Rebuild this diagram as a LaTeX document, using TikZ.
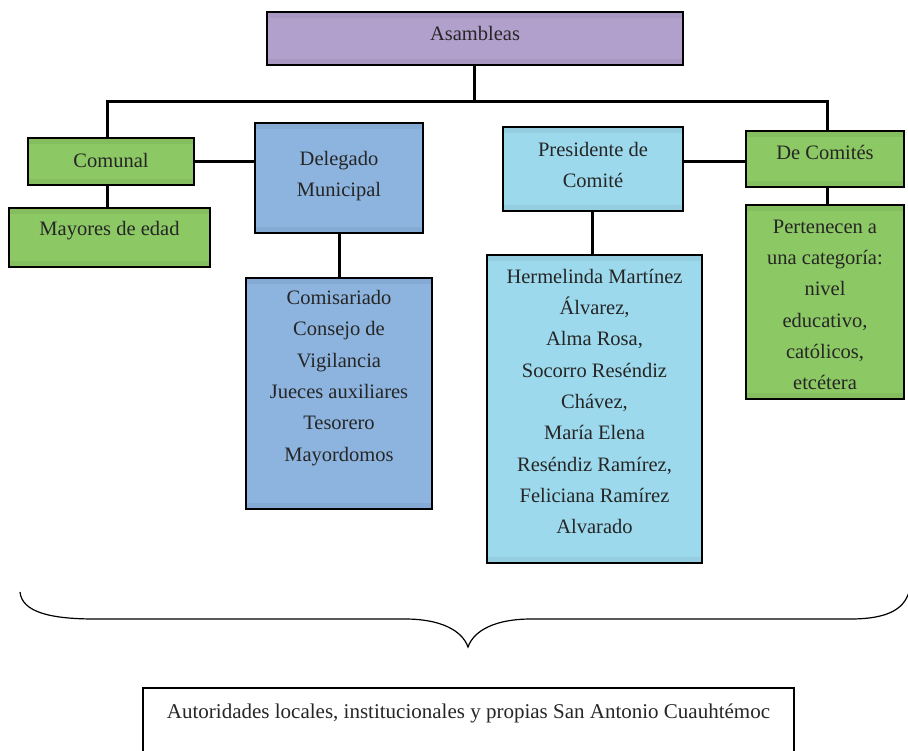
\documentclass[tikz,border=0pt]{standalone}
\usepackage{fontspec}
\setmainfont{Liberation Serif}
\definecolor{purp}{HTML}{B1A0CB}
\definecolor{grn}{HTML}{8CC864}
\definecolor{blu}{HTML}{8CB4DF}
\definecolor{lblu}{HTML}{9CD9EC}
\definecolor{txtc}{HTML}{262626}
\tikzset{
  box/.style={draw=black, line width=1.8pt, fill=#1, inner sep=0pt,
    path picture={
      \fill[#1!95!black] (path picture bounding box.north west) rectangle ([yshift=-6pt]path picture bounding box.north east);
      \fill[#1!95!black] (path picture bounding box.south west) rectangle ([yshift=6pt]path picture bounding box.south east);
    }},
  txt/.style={align=center, inner sep=0pt, text=txtc, font=\fontsize{20.5}{31.3}\selectfont},
  conn/.style={draw=black, line width=3pt},
}
\begin{document}
\begin{tikzpicture}[x=1pt,y=-1pt]
\useasboundingbox (0,0) rectangle (908,750);
% boxes
\node[box=purp, minimum width=416, minimum height=53] (asm) at (475,38.5) {};
\node[box=grn, minimum width=166, minimum height=47] (comunal) at (111,161.5) {};
\node[box=grn, minimum width=201, minimum height=59] (mayores) at (109.5,237.5) {};
\node[box=blu, minimum width=168, minimum height=110] (del) at (339,178) {};
\node[box=blu, minimum width=186, minimum height=231] (comis) at (339,393.5) {};
\node[box=lblu, minimum width=180, minimum height=84] (pres) at (593,169) {};
\node[box=lblu, minimum width=215, minimum height=308] (herm) at (594.5,409) {};
\node[box=grn, minimum width=158, minimum height=56] (dec) at (825,159) {};
\node[box=grn, minimum width=158, minimum height=194] (pert) at (825,302) {};
\node[draw=black, line width=1.5pt, fill=white, minimum width=651, minimum height=72, inner sep=0pt] (aut) at (468.5,724) {};
% texts
\node[txt] (tasm) at (475,33) {Asambleas};
\node[txt] (tcom) at (111,160) {Comunal};
\node[txt] (tmay) at (109.5,231) {Mayores de edad};
\node[txt] (tdel) at (339,176) {Delegado\\Municipal};
\node[txt] (tcomis) at (339,378) {Comisariado\\Consejo de\\Vigilancia\\Jueces auxiliares\\Tesorero\\Mayordomos};
\node[txt] (tpres) at (593,165) {Presidente de\\Comité};
\node[txt] (therm) at (594.5,401.5) {Hermelinda Martínez\\Álvarez,\\Alma Rosa,\\Socorro Reséndiz\\Chávez,\\María Elena\\Reséndiz Ramírez,\\Feliciana Ramírez\\Alvarado};
\node[txt] (tdec) at (825,152) {De Comités};
\node[txt] (tpert) at (825,305) {Pertenecen a\\una categoría:\\nivel\\educativo,\\católicos,\\etcétera};
\node[txt, font=\fontsize{21}{25}\selectfont] (taut) at (468.5,713) {Autoridades locales, institucionales y propias San Antonio Cuauhtémoc};
% connectors
\coordinate (hl) at (107,101);
\coordinate (hr) at (827,101);
\coordinate (hm) at (474,101);
\draw[conn] (hm |- asm.south) -- (hm);
\draw[conn] ([xshift=-1.5pt]hl) -- ([xshift=1.5pt]hr);
\draw[conn] (hl) -- (hl |- comunal.north);
\draw[conn] (hl |- comunal.south) -- (hl |- mayores.north);
\draw[conn] (comunal.east) -- (comunal.east -| del.west);
\draw[conn] (del.south) -- (comis.north);
\draw[conn] (pres.east |- 0,161) -- (dec.west |- 0,161);
\draw[conn] (592,211) -- (herm.north -| 592,0);
\draw[conn] (hr) -- (hr |- dec.north);
\draw[conn] (hr |- dec.south) -- (hr |- pert.north);
% brace
\draw[line width=1.2pt] (20,592) .. controls (22,612) and (50,619) .. (95,619) -- (405,619)
  .. controls (440,619) and (462,630) .. (468,647)
  .. controls (474,630) and (496,619) .. (531,619) -- (850,619)
  .. controls (890,619) and (906,608) .. (910,588);
\end{tikzpicture}
\end{document}
